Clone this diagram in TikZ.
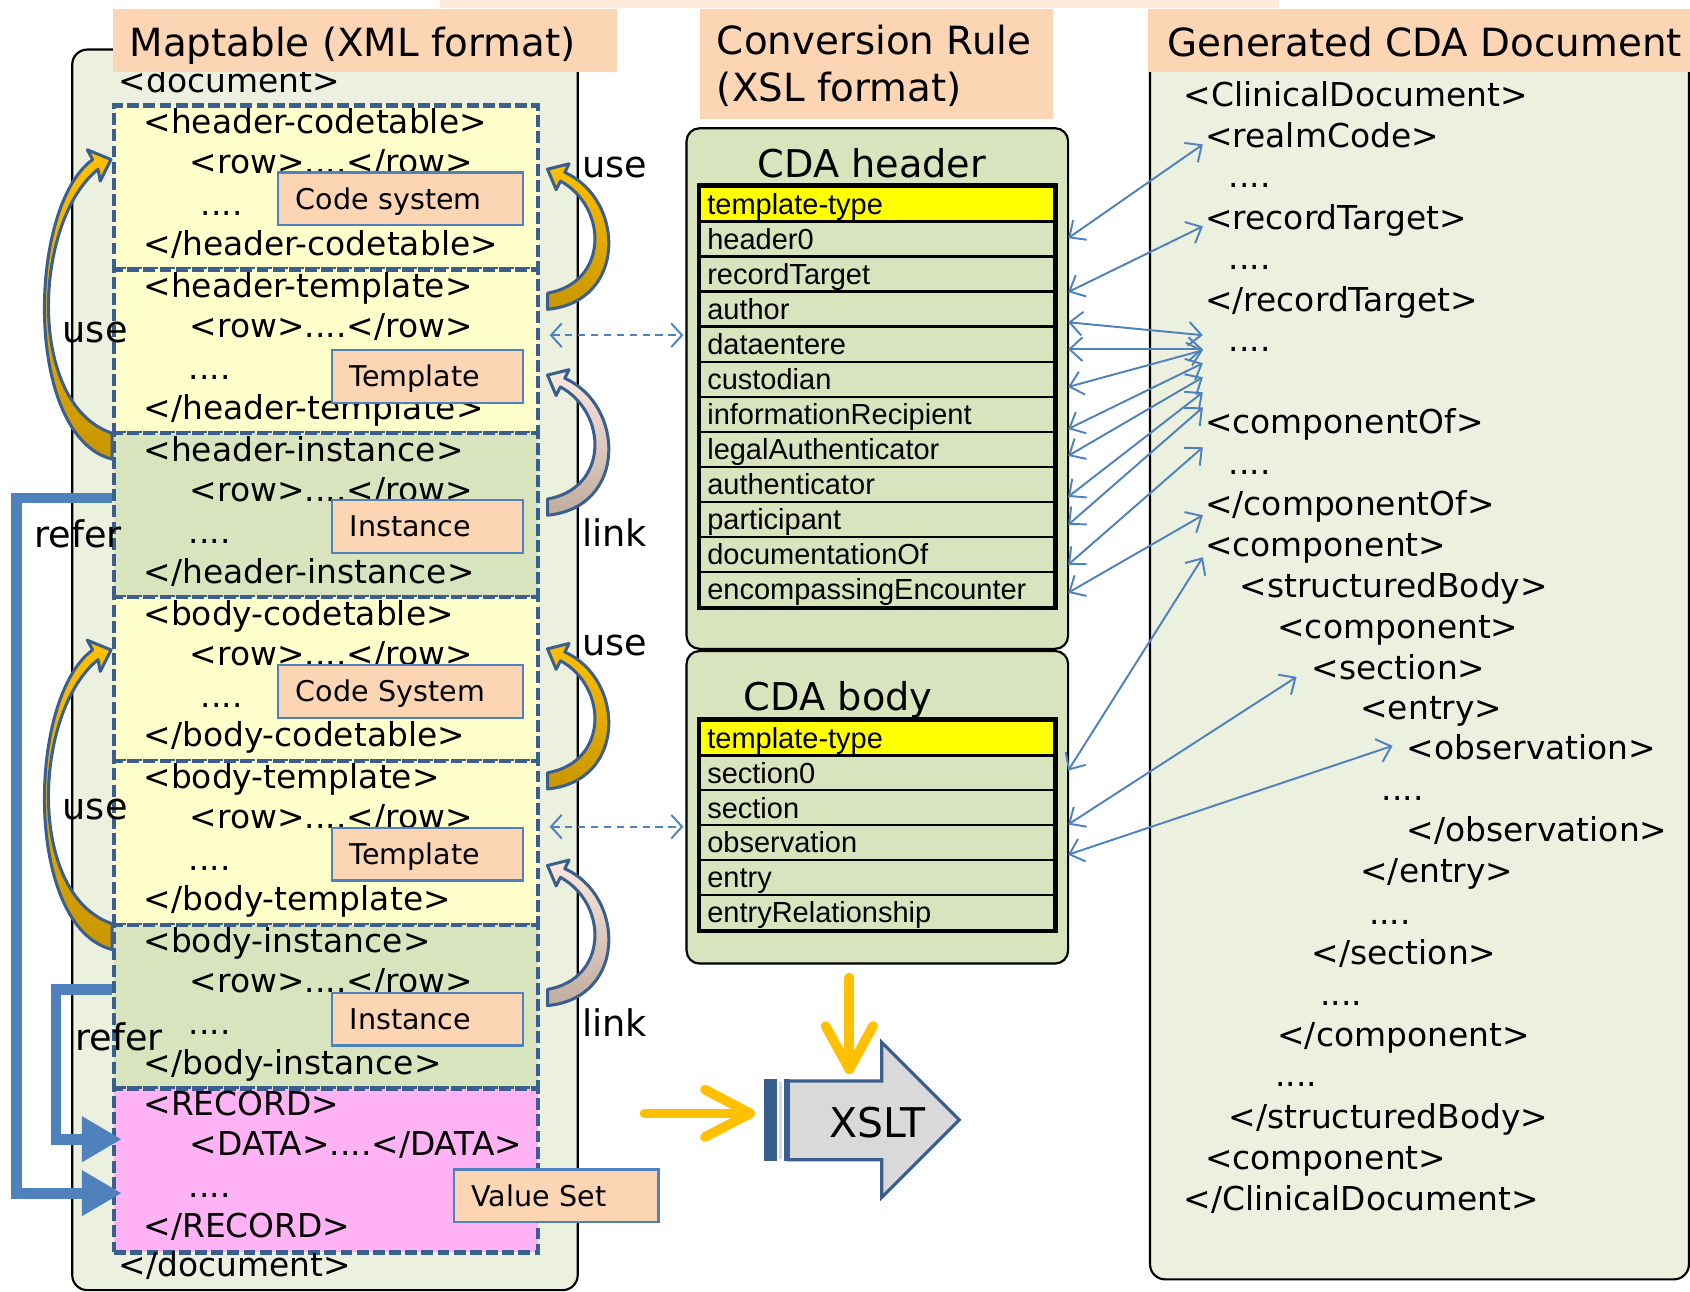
\documentclass[tikz,border=0pt]{standalone}
\usepackage{fontspec}
\setmainfont{DejaVu Sans}
\newfontfamily\arialf{Liberation Sans}
\usetikzlibrary{arrows.meta}
\definecolor{panelg}{HTML}{EBF1DE}
\definecolor{boxg}{HTML}{D7E4BD}
\definecolor{ylw}{HTML}{FFFFCC}
\definecolor{yel}{HTML}{FFFF00}
\definecolor{pnk}{HTML}{FFB3F5}
\definecolor{peach}{HTML}{FCD5B5}
\definecolor{peachl}{HTML}{FDEADA}
\definecolor{dblue}{HTML}{3A5F8E}
\definecolor{lblue}{HTML}{4F81BD}
\definecolor{gold}{HTML}{FFC000}
\definecolor{dgold}{HTML}{C89600}
\definecolor{lnka}{HTML}{FCE8DC}
\definecolor{lnkb}{HTML}{BFAB9F}
\definecolor{xgray}{HTML}{D9D9D9}
\begin{document}
\begin{tikzpicture}[x=1pt,y=-1pt,
  panel/.style={draw=black, line width=2pt, rounded corners=14pt, fill=panelg, anchor=north west, inner sep=0pt},
  cdapan/.style={draw=black, line width=2pt, rounded corners=12pt, fill=boxg, anchor=north west, inner sep=0pt},
  dbox/.style={draw=dblue, line width=4pt, dash pattern=on 11pt off 4pt, anchor=north west, minimum width=393pt, minimum height=152pt, inner sep=0pt},
  tag/.style={anchor=base west, inner sep=0pt, font=\fontsize{30.5}{36}\selectfont},
  ttlbox/.style={fill=peach, anchor=north west, inner sep=0pt},
  ttl/.style={anchor=base west, inner sep=0pt, font=\fontsize{36}{43}\selectfont},
  lbl/.style={draw=lblue, line width=2pt, fill=peach, anchor=north west, minimum height=49pt, inner xsep=16.5pt, inner ysep=0pt, align=left, text height=22pt, text depth=3pt, font=\fontsize{26.5}{32}\selectfont},
  word/.style={anchor=base west, inner sep=0pt, font=\fontsize{34}{40}\selectfont},
  rowbox/.style={draw=black, line width=2.5pt, fill=boxg, anchor=north west, minimum height=32.5pt, inner xsep=7pt, inner ysep=0pt, text width=315pt, align=left, text height=22pt, text depth=2.7pt, font=\arialf\fontsize{26.9}{32}\selectfont},
  bigarr/.style={draw=dblue, line width=2.8pt, line join=round},
  conn/.style={draw=lblue, line width=1.8pt, >={Straight Barb[length=12pt,width=22pt]}, <->},
  dasharr/.style={draw=lblue, line width=1.8pt, dash pattern=on 7pt off 5pt, >={Straight Barb[length=10pt,width=22pt]}, <->},
  referarr/.style={draw=lblue, line width=10pt, -{Triangle[length=37pt,width=40pt]}},
  yarr/.style={draw=gold, line width=9pt, line cap=round, line join=round}
]
\useasboundingbox (0,0) rectangle (1568,1198);
\fill[peachl] (408,0) rectangle (1187,7);

% ---------------- left panel ----------------
\node[panel, minimum width=469pt, minimum height=1151pt] (lpan) at (66,45) {};
\node[tag] (docopen) at (110,86) {<document>};
\foreach \nm/\T/\fc/\a/\dx in {hct/96/ylw/header-codetable/186, htp/248/ylw/header-template/175, hin/400/boxg/header-instance/175, bct/552/ylw/body-codetable/186, btp/704/ylw/body-template/175, bin/856/boxg/body-instance/175}{
  \node[dbox, fill=\fc] (\nm) at (104,\T) {};
  \node[tag] (\nm-o) at (133,\T+28) {<\a>};
  \node[tag] (\nm-r) at (176,\T+65) {<row>....</row>};
  \node[tag] (\nm-d) at (\dx,\T+104) {....};
  \node[tag] (\nm-c) at (133,\T+141) {</\a>};
}
\node[dbox, fill=pnk] (rec) at (104,1008) {};
\node[tag] (rec-o) at (133,1035) {<RECORD>};
\node[tag] (rec-r) at (176,1072) {<DATA>....</DATA>};
\node[tag] (rec-d) at (175,1111) {....};
\node[tag] (rec-c) at (133,1148) {</RECORD>};
\node[tag] (docclose) at (110,1184) {</document>};

\node[lbl, text width=194pt] (lb1) at (257,159) {Code system};
\node[lbl, text width=144pt] (lb2) at (307,324) {Template};
\node[lbl, text width=144pt] (lb3) at (307,463) {Instance};
\node[lbl, text width=194pt] (lb4) at (257,616) {Code System};
\node[lbl, text width=144pt] (lb5) at (307,767) {Template};
\node[lbl, text width=144pt] (lb6) at (307,920) {Instance};
\node[lbl, text width=157pt] (lb7) at (420,1084) {Value Set};

% ---------------- right panel ----------------
\node[panel, minimum width=500pt, minimum height=1136pt] (rpan) at (1066,50) {};
\foreach \x/\y/\t [count=\i] in {1098/99/{<ClinicalDocument>}, 1118/137/{<realmCode>}, 1140/174/{....}, 1118/213/{<recordTarget>}, 1140/250/{....}, 1118/289/{</recordTarget>}, 1140/326/{....}, 1118/402/{<componentOf>}, 1140/440/{....}, 1118/478/{</componentOf>}, 1118/516/{<component>}, 1150/554/{<structuredBody>}, 1185/592/{<component>}, 1217/630/{<section>}, 1262/668/{<entry>}, 1305/705/{<observation>}, 1282/743/{....}, 1305/781/{</observation>}, 1262/819/{</entry>}, 1270/858/{....}, 1217/895/{</section>}, 1225/933/{....}, 1185/971/{</component>}, 1183/1008/{....}, 1140/1047/{</structuredBody>}, 1118/1085/{<component>}, 1098/1123/{</ClinicalDocument>}}
  \node[tag] (g\i) at (\x,\y) {\t};

% ---------------- titles ----------------
\node[ttlbox, minimum width=467pt, minimum height=59pt] (t1box) at (105,8) {};
\node[ttl] (t1) at (120,52) {Maptable (XML format)};
\node[ttlbox, minimum width=328pt, minimum height=102pt] (t2box) at (649,8) {};
\node[ttl] (t2a) at (665,51) {Conversion Rule};
\node[ttl] (t2b) at (665,94) {(XSL format)};
\node[ttlbox, minimum width=503pt, minimum height=59pt] (t3box) at (1065,8) {};
\node[ttl] (t3) at (1083,52) {Generated CDA Document};

% ---------------- CDA header / body ----------------
\node[cdapan, minimum width=354pt, minimum height=483pt] (cdah) at (636,118) {};
\node[anchor=base, inner sep=0pt, font=\fontsize{35.5}{42}\selectfont] (cdaht) at (809,165) {CDA header};
\node[rowbox, fill=yel] (h0) at (648,172) {template-type};
\foreach \t [count=\i] in {header0, recordTarget, author, dataentere, custodian, informationRecipient, legalAuthenticator, authenticator, participant, documentationOf, encompassingEncounter}
  \node[rowbox] (h\i) at (648,172+32.5*\i) {\t};
\draw[line width=3.5pt] (h0.north west) rectangle (h11.south east);

\node[cdapan, minimum width=354pt, minimum height=290pt] (cdab) at (636,603) {};
\node[anchor=base west, inner sep=0pt, font=\fontsize{35.5}{42}\selectfont] (cdabt) at (690,659) {CDA body};
\node[rowbox, fill=yel] (b0) at (648,667) {template-type};
\foreach \t [count=\i] in {section0, section, observation, entry, entryRelationship}
  \node[rowbox] (b\i) at (648,667+32.4*\i) {\t};
\draw[line width=3.5pt] (b0.north west) rectangle (b5.south east);

% ---------------- connectors ----------------
\foreach \i/\ya/\yb in {1/221/134, 2/271/210, 3/299/311, 4/324/324, 5/359/325, 6/398/337, 7/423/350, 8/461/364, 9/487/378, 10/524/415, 11/550/478}{
  \coordinate (hl\i) at (991,\ya);
  \coordinate (hr\i) at (1116,\yb);
  \draw[conn] (hl\i) -- (hr\i);
}
\coordinate (bl1) at (991,715); \coordinate (br1) at (1116,517);
\coordinate (bl2) at (991,765); \coordinate (br2) at (1203,628);
\coordinate (bl3) at (991,793); \coordinate (br3) at (1292,692);
\draw[conn] (bl1) -- (br1);
\draw[conn] (bl2) -- (br2);
\draw[conn] (bl3) -- (br3);

\coordinate (da1) at (510,311); \coordinate (db1) at (634,311);
\coordinate (da2) at (510,767); \coordinate (db2) at (634,767);
\draw[dasharr] (da1) -- (db1);
\draw[dasharr] (da2) -- (db2);

% ---------------- curved block arrows ----------------
\foreach \s in {0,455}{
  \begin{scope}[shift={(0,\s)}]
    \path[bigarr, top color=gold, bottom color=dgold] (104,426) .. controls (22,405) and (25,192) .. (86,148) -- (81,139) -- (103,148) -- (93,168) -- (91,157) .. controls (31,205) and (24,375) .. (104,402) -- cycle;
  \end{scope}
}
\foreach \s in {0,445}{
  \begin{scope}[shift={(0,\s)}]
    \path[bigarr, top color=gold, bottom color=dgold] (508,287) .. controls (582,280) and (580,185) .. (524,160) -- (528,152) -- (508,157) -- (516,176) -- (520,168) .. controls (564,192) and (565,262) .. (508,272) -- cycle;
  \end{scope}
}
\foreach \s in {191,646}{
  \begin{scope}[shift={(0,\s)}]
    \path[bigarr, top color=lnka, bottom color=lnkb] (508,287) .. controls (582,280) and (580,185) .. (524,160) -- (528,152) -- (508,157) -- (516,176) -- (520,168) .. controls (564,192) and (565,262) .. (508,272) -- cycle;
  \end{scope}
}
\node[word] (use1) at (58,318) {use};
\node[word] (use2) at (540,165) {use};
\node[word] (link1) at (540,507) {link};
\node[word] (use3) at (58,760) {use};
\node[word] (use4) at (540,608) {use};
\node[word] (link2) at (540,962) {link};

% ---------------- refer arrows ----------------
\coordinate (ra1) at (104,462); \coordinate (rb1) at (113,1107);
\coordinate (ra2) at (104,918); \coordinate (rb2) at (113,1057);
\draw[referarr] (ra1) -- (15,462) -- (15,1107) -- (rb1);
\draw[referarr] (ra2) -- (52,918) -- (52,1057) -- (rb2);
\node[word] (refer1) at (32,508) {refer};
\node[word] (refer2) at (70,975) {refer};

% ---------------- XSLT ----------------
\path[draw=dblue, line width=3pt, fill=xgray, line join=miter] (731,1003) -- (818,1003) -- (818,967) -- (890,1039) -- (818,1111) -- (818,1076) -- (731,1076) -- cycle;
\fill[dblue] (709,1001.5) rectangle (721,1077.5);
\fill[dblue] (727,1001.5) rectangle (733,1077.5);
\fill[xgray] (722.5,1004) rectangle (725.5,1075);
\node[inner sep=0pt, font=\fontsize{38}{44}\selectfont] (xslt) at (814,1042) {XSLT};

\coordinate (ya1) at (788,907); \coordinate (yb1) at (788,992);
\coordinate (ya2) at (598,1033); \coordinate (yb2) at (696,1033);
\draw[yarr] (ya1) -- (yb1);
\draw[yarr] (766,952) -- (yb1) -- (810,952);
\draw[yarr] (ya2) -- (yb2);
\draw[yarr] (654,1011) -- (yb2) -- (654,1055);
\end{tikzpicture}
\end{document}
